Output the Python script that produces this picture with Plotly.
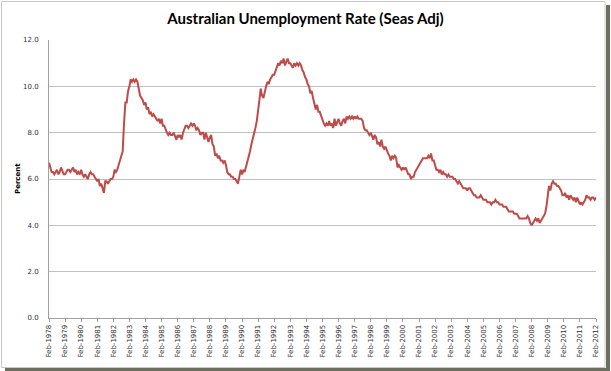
import plotly.graph_objects as go
import pandas as pd

# Monthly seasonally adjusted unemployment rate (%), each list runs Feb..Jan
y1978 = [6.7, 6.5, 6.3, 6.3, 6.2, 6.3, 6.4, 6.2, 6.3, 6.5, 6.3, 6.2]
y1979 = [6.2, 6.3, 6.4, 6.4, 6.3, 6.4, 6.5, 6.3, 6.4, 6.2, 6.3, 6.2]
y1980 = [6.4, 6.2, 6.1, 6.2, 6.1, 6.0, 6.2, 6.3, 6.2, 6.2, 6.1, 6.0]
y1981 = [5.9, 6.0, 5.7, 5.8, 5.6, 5.4, 5.9, 5.9, 5.8, 5.9, 6.0, 6.0]
y1982 = [6.1, 6.4, 6.3, 6.4, 6.6, 6.9, 7.0, 7.2, 8.4, 9.3, 9.3, 9.8]
y1983 = [10.0, 10.3, 10.2, 10.3, 10.2, 10.3, 10.2, 9.9, 9.6, 9.5, 9.4, 9.2]
y1984 = [9.3, 9.0, 9.1, 8.8, 8.9, 8.7, 8.8, 8.7, 8.6, 8.5, 8.6, 8.4]
y1985 = [8.6, 8.3, 8.3, 8.1, 8.0, 7.9, 8.0, 7.9, 7.9, 8.0, 7.8, 7.7]
y1986 = [7.9, 7.8, 7.9, 7.7, 8.0, 8.2, 8.3, 8.3, 8.2, 8.3, 8.4, 8.3]
y1987 = [8.4, 8.3, 8.1, 8.2, 8.1, 7.9, 8.0, 8.0, 7.7, 8.0, 7.8, 7.6]
y1988 = [7.8, 7.9, 7.5, 7.4, 7.0, 7.1, 6.9, 7.0, 6.8, 6.8, 6.7, 6.8]
y1989 = [6.6, 6.3, 6.2, 6.2, 6.1, 6.1, 6.0, 6.0, 5.9, 5.8, 6.1, 6.4]
y1990 = [6.2, 6.4, 6.3, 6.5, 6.7, 6.9, 7.2, 7.5, 7.7, 8.0, 8.2, 8.5]
y1991 = [8.9, 9.4, 9.9, 9.6, 9.5, 9.8, 10.0, 10.2, 10.1, 10.3, 10.4, 10.5]
y1992 = [10.5, 10.7, 10.8, 11.0, 10.9, 11.1, 11.0, 11.2, 10.9, 11.1, 11.2, 11.0]
y1993 = [11.0, 10.9, 10.8, 11.0, 10.9, 11.0, 10.9, 11.0, 10.9, 10.7, 10.6, 10.4]
y1994 = [10.3, 10.1, 10.0, 9.7, 9.8, 9.5, 9.3, 9.0, 9.2, 8.9, 8.9, 8.7]
y1995 = [8.6, 8.4, 8.3, 8.4, 8.3, 8.5, 8.3, 8.4, 8.2, 8.6, 8.3, 8.5]
y1996 = [8.6, 8.4, 8.3, 8.5, 8.6, 8.4, 8.7, 8.6, 8.7, 8.6, 8.7, 8.6]
y1997 = [8.7, 8.6, 8.7, 8.6, 8.6, 8.6, 8.5, 8.2, 8.1, 8.1, 8.0, 7.9]
y1998 = [8.0, 7.8, 7.7, 7.9, 7.8, 7.5, 7.6, 7.4, 7.7, 7.4, 7.3, 7.4]
y1999 = [7.2, 7.1, 7.0, 6.8, 7.0, 6.9, 7.0, 6.9, 6.5, 6.6, 6.5, 6.4]
y2000 = [6.5, 6.4, 6.5, 6.3, 6.2, 6.2, 6.0, 6.1, 6.1, 6.3, 6.4, 6.5]
y2001 = [6.6, 6.7, 6.8, 6.9, 6.9, 6.9, 6.9, 7.0, 6.9, 7.1, 6.8, 6.8]
y2002 = [6.6, 6.4, 6.4, 6.3, 6.4, 6.2, 6.3, 6.2, 6.2, 6.1, 6.2, 6.1]
y2003 = [6.1, 6.1, 6.0, 6.0, 5.9, 5.8, 5.9, 5.8, 5.7, 5.6, 5.6, 5.6]
y2004 = [5.5, 5.6, 5.6, 5.5, 5.4, 5.3, 5.3, 5.2, 5.2, 5.2, 5.3, 5.2]
y2005 = [5.1, 5.1, 5.1, 5.0, 5.0, 5.0, 4.9, 5.0, 5.0, 5.1, 5.0, 5.0]
y2006 = [4.9, 4.9, 4.9, 4.8, 4.8, 4.8, 4.7, 4.6, 4.6, 4.6, 4.6, 4.5]
y2007 = [4.5, 4.5, 4.4, 4.3, 4.3, 4.3, 4.3, 4.3, 4.3, 4.4, 4.3, 4.1]
y2008 = [4.0, 4.1, 4.2, 4.3, 4.2, 4.3, 4.1, 4.2, 4.3, 4.4, 4.5, 4.8]
y2009 = [5.2, 5.7, 5.5, 5.8, 5.9, 5.8, 5.8, 5.7, 5.7, 5.6, 5.5, 5.3]
y2010 = [5.3, 5.4, 5.2, 5.3, 5.1, 5.3, 5.2, 5.1, 5.2, 5.0, 5.2, 5.0]
y2011 = [4.9, 5.0, 4.9, 5.0, 5.1, 5.3, 5.2, 5.2, 5.1, 5.2, 5.2, 5.1]
y2012 = [5.2]

rate = (y1978 + y1979 + y1980 + y1981 + y1982 + y1983 + y1984 + y1985 + y1986
        + y1987 + y1988 + y1989 + y1990 + y1991 + y1992 + y1993 + y1994 + y1995
        + y1996 + y1997 + y1998 + y1999 + y2000 + y2001 + y2002 + y2003 + y2004
        + y2005 + y2006 + y2007 + y2008 + y2009 + y2010 + y2011 + y2012)
months = pd.date_range("1978-02-01", periods=len(rate), freq="MS")

tick_years = list(range(1978, 2013))
tick_vals = [f"{yr}-02-01" for yr in tick_years]
tick_text = [f"Feb-{yr}" for yr in tick_years]

W, H = 611, 371
L, R, T, B = 49, 15, 40, 53
pw, ph = W - L - R, H - T - B


def px(x):
    return (x - L) / pw


def py(y):
    return (H - B - y) / ph


fig = go.Figure()
fig.add_trace(go.Scatter(
    x=months, y=rate, mode="lines",
    line=dict(color="#be4b48", width=2),
    hoverinfo="x+y", showlegend=False,
))

fig.update_layout(
    width=W, height=H,
    margin=dict(l=L, r=R, t=T, b=B, pad=0),
    paper_bgcolor="white", plot_bgcolor="white",
    title=dict(
        text="<b>Australian Unemployment Rate (Seas Adj)</b>",
        x=0.5, xanchor="center", y=1 - 19 / H, yanchor="middle",
        font=dict(family="Lato, sans-serif", size=15, color="#000000"),
    ),
    xaxis=dict(
        type="date",
        range=[months[0], months[-1]],
        tickvals=tick_vals, ticktext=tick_text,
        tickangle=-90,
        tickfont=dict(family="DejaVu Sans, sans-serif", size=7, color="#333333"),
        showgrid=False, zeroline=False,
        showline=True, linecolor="#a0a0a0", linewidth=1,
        ticks="outside", ticklen=3, tickcolor="#a0a0a0",
    ),
    yaxis=dict(
        range=[0, 12], dtick=2, tickformat=".1f",
        tickfont=dict(family="DejaVu Sans, sans-serif", size=7, color="#333333"),
        showgrid=True, gridcolor="#c0c0c0", gridwidth=1.3,
        zeroline=False,
        showline=True, linecolor="#a0a0a0", linewidth=1,
        ticks="", ticklabelstandoff=8,
    ),
    annotations=[dict(
        text="<b>Percent</b>", xref="paper", yref="paper",
        x=px(18), y=0.5, xanchor="center", yanchor="middle",
        textangle=-90, showarrow=False,
        font=dict(family="DejaVu Sans, sans-serif", size=7, color="#000000"),
    )],
    shapes=[
        dict(type="rect", xref="paper", yref="paper", layer="below",
             x0=px(606), x1=px(610), y0=py(370), y1=py(5),
             fillcolor="#6e6e60", line=dict(width=0)),
        dict(type="rect", xref="paper", yref="paper", layer="below",
             x0=px(5), x1=px(610), y0=py(371), y1=py(368),
             fillcolor="#6e6e60", line=dict(width=0)),
        dict(type="rect", xref="paper", yref="paper", layer="below",
             x0=px(1.5), x1=px(605), y0=py(367.5), y1=py(1.5),
             fillcolor="rgba(0,0,0,0)", line=dict(color="#c8c8c8", width=1)),
    ],
)

fig.write_html(
    "out.html",
    config={"displayModeBar": False},
    post_script="document.body.style.margin='0';document.body.style.overflow='hidden';",
)
